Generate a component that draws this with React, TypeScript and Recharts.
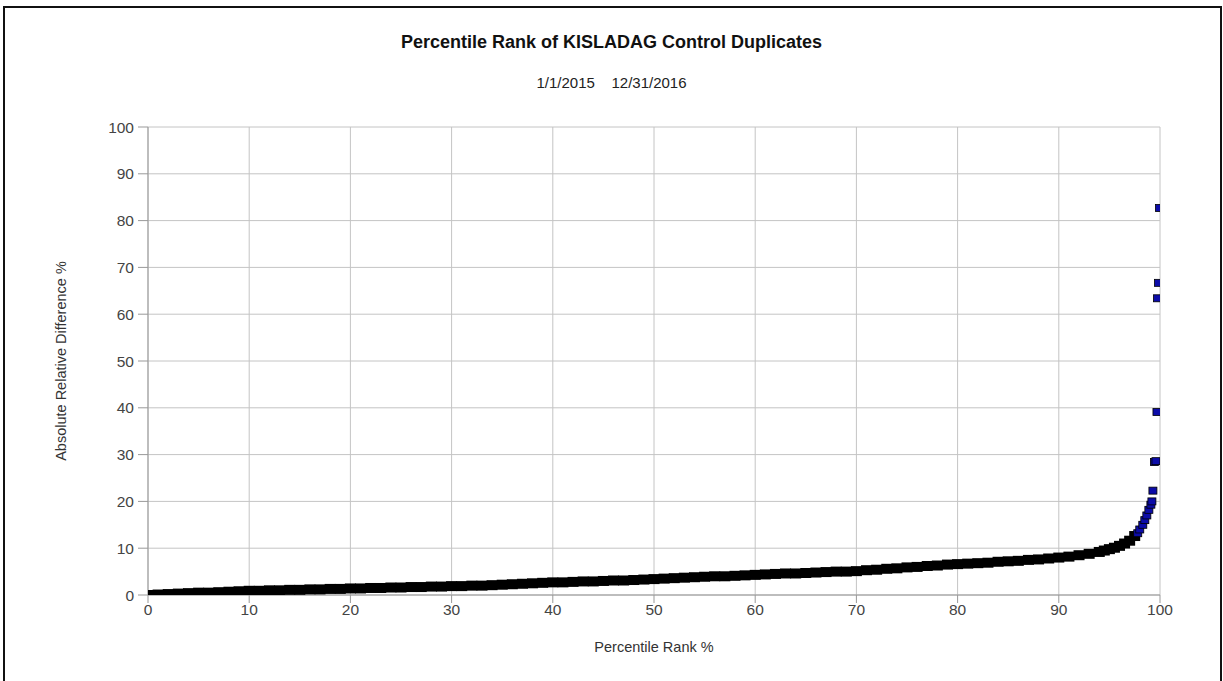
import {
  ScatterChart,
  Scatter,
  XAxis,
  YAxis,
  CartesianGrid,
  Label,
} from 'recharts'

// percentile rank (%) and absolute relative difference (%) of the main body
const bulkPct = [
  0, 1, 2, 3, 4, 5, 6, 7, 8, 9, 10, 11, 12, 13, 14, 15, 16, 17, 18, 19, 20,
  21, 22, 23, 24, 25, 26, 27, 28, 29, 30, 31, 32, 33, 34, 35, 36, 37, 38, 39, 40,
  41, 42, 43, 44, 45, 46, 47, 48, 49, 50, 51, 52, 53, 54, 55, 56, 57, 58, 59, 60,
  61, 62, 63, 64, 65, 66, 67, 68, 69, 70, 71, 72, 73, 74, 75, 76, 77, 78, 79, 80,
  81, 82, 83, 84, 85, 86, 87, 88, 89, 90, 91, 92, 93, 94, 94.5, 95, 95.5, 96,
  96.5, 97, 97.5,
]
const bulkVal = [
  0.0, 0.1, 0.2, 0.3, 0.4, 0.5, 0.5, 0.6, 0.7, 0.8, 0.9, 0.9, 1.0, 1.0, 1.1, 1.1, 1.2, 1.2, 1.3, 1.3, 1.4,
  1.4, 1.5, 1.5, 1.6, 1.6, 1.7, 1.7, 1.8, 1.8, 1.9, 1.9, 2.0, 2.0, 2.1, 2.2, 2.3, 2.4, 2.5, 2.6, 2.7,
  2.7, 2.8, 2.9, 2.9, 3.0, 3.1, 3.1, 3.2, 3.3, 3.4, 3.5, 3.6, 3.7, 3.8, 3.9, 4.0, 4.0, 4.1, 4.2, 4.3,
  4.4, 4.5, 4.6, 4.6, 4.7, 4.8, 4.9, 5.0, 5.0, 5.1, 5.3, 5.4, 5.6, 5.7, 5.9, 6.0, 6.2, 6.3, 6.5, 6.6,
  6.7, 6.8, 6.9, 7.1, 7.2, 7.3, 7.5, 7.6, 7.8, 8.0, 8.2, 8.5, 8.8, 9.2, 9.5, 9.8, 10.1, 10.5,
  11.0, 11.6, 12.6,
]

// upper tail, drawn as separate blue markers
const tailPct = [97.8, 98.0, 98.3, 98.5, 98.7, 98.9, 99.1, 99.2, 99.3, 99.45, 99.6, 99.7, 99.75, 99.85, 99.95]
const tailVal = [13.2, 14.0, 15.0, 16.0, 17.0, 18.2, 19.3, 20.0, 22.3, 28.4, 28.6, 39.1, 63.4, 66.7, 82.7]

const ticks = [0, 10, 20, 30, 40, 50, 60, 70, 80, 90, 100]

const bulk = bulkPct.map((pct, i) => ({ pct, val: bulkVal[i] }))
const tail = tailPct.map((pct, i) => ({ pct, val: tailVal[i] }))

const FONT = '"Liberation Sans", Arial, sans-serif'

const BlackSquare = (props: any) => (
  <rect x={props.cx - 5.5} y={props.cy - 5} width={11} height={10} fill="#000" />
)

const BlueSquare = (props: any) => (
  <rect
    x={props.cx - 4}
    y={props.cy - 3.5}
    width={8}
    height={7}
    fill="#0c0ca8"
    stroke="#000"
    strokeWidth={0.8}
  />
)

export default function App() {
  return (
    <div
      style={{
        position: 'relative',
        width: 1223,
        height: 681,
        overflow: 'hidden',
        background: '#fff',
        fontFamily: FONT,
      }}
    >
      <style>{'body{margin:0}'}</style>
      {/* outer frame */}
      <div
        style={{
          position: 'absolute',
          left: 3,
          top: 6,
          width: 1215,
          height: 700,
          border: '2px solid #111',
        }}
      />
      <div
        style={{
          position: 'absolute',
          top: 32,
          width: '100%',
          textAlign: 'center',
          fontSize: 18,
          fontWeight: 'bold',
          color: '#111',
        }}
      >
        Percentile Rank of KISLADAG Control Duplicates
      </div>
      <div
        style={{
          position: 'absolute',
          top: 74,
          width: '100%',
          textAlign: 'center',
          fontSize: 15,
          color: '#222',
          whiteSpace: 'pre',
        }}
      >
        {'1/1/2015    12/31/2016'}
      </div>
      <div style={{ position: 'absolute', left: 0, top: 0 }}>
        <ScatterChart
          width={1223}
          height={681}
          margin={{ top: 127, right: 63, bottom: 0, left: 0 }}
        >
          <CartesianGrid stroke="#c4c4c4" strokeWidth={1} />
          <XAxis
            type="number"
            dataKey="pct"
            domain={[0, 100]}
            ticks={ticks}
            interval={0}
            height={86}
            tickSize={8}
            tickMargin={1}
            stroke="#999"
            tick={{ fill: '#444', fontSize: 15.5, fontFamily: FONT }}
            allowDataOverflow
          >
            <Label
              value="Percentile Rank %"
              position="insideTop"
              offset={47}
              style={{ fill: '#333', fontSize: 14.5, fontFamily: FONT }}
            />
          </XAxis>
          <YAxis
            type="number"
            dataKey="val"
            domain={[0, 100]}
            ticks={ticks}
            interval={0}
            width={148}
            tickSize={10}
            tickMargin={4}
            stroke="#999"
            tick={{ fill: '#444', fontSize: 15.5, fontFamily: FONT }}
            allowDataOverflow
          >
            <Label
              value="Absolute Relative Difference %"
              angle={-90}
              position="insideLeft"
              offset={61}
              style={{ fill: '#333', fontSize: 14.5, fontFamily: FONT, textAnchor: 'middle' }}
            />
          </YAxis>
          <Scatter data={bulk} shape={BlackSquare} isAnimationActive={false} />
          <Scatter data={tail} shape={BlueSquare} isAnimationActive={false} />
        </ScatterChart>
      </div>
    </div>
  )
}
